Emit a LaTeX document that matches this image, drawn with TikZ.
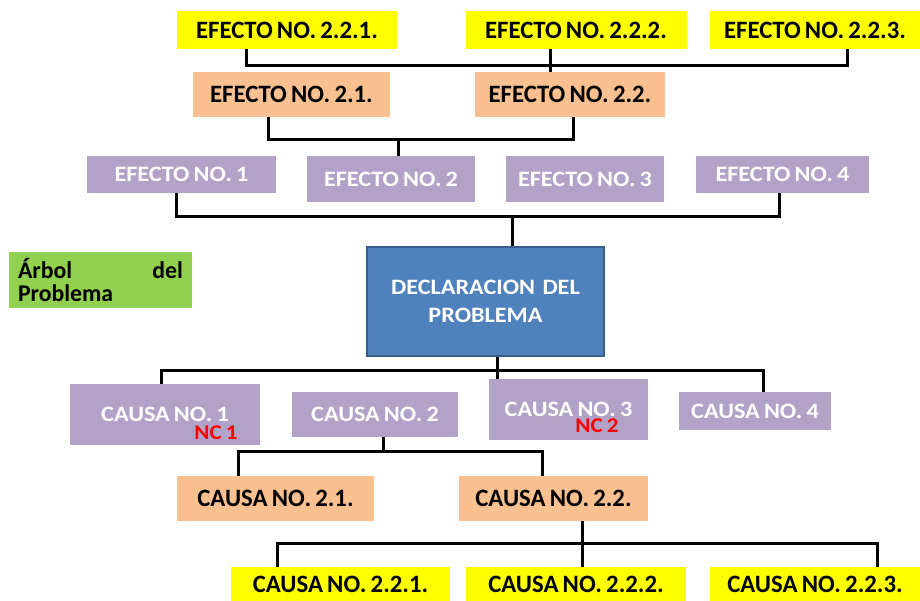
\documentclass[tikz,border=0pt]{standalone}
\usepackage{fontspec}
\setmainfont{Carlito}[FakeStretch=0.99, WordSpace=0.75]
\newfontfamily\wfont{Carlito}[FakeStretch=1.1, WordSpace=0.75]
\definecolor{cyel}{HTML}{FFFF00}
\definecolor{corg}{HTML}{FAC090}
\definecolor{cpur}{HTML}{B2A2C7}
\definecolor{cgrn}{HTML}{92D050}
\definecolor{cblu}{HTML}{4F81BD}
\definecolor{cblub}{HTML}{385D8A}
\definecolor{cred}{HTML}{FF0000}
\tikzset{
  box/.style={inner sep=0pt},
  yelbox/.style={box, fill=cyel, text=black, font=\fontsize{25}{28}\selectfont\bfseries},
  orgbox/.style={box, fill=corg, text=black, font=\fontsize{25}{28}\selectfont\bfseries},
  purbox/.style={box, fill=cpur, text=white, font=\wfont\fontsize{22}{26}\selectfont\bfseries},
  nclabel/.style={inner sep=0pt, text=cred, font=\wfont\fontsize{21}{22}\selectfont\bfseries},
  conn/.style={draw=black, line width=3pt, line join=miter},
}
\begin{document}
\begin{tikzpicture}[x=1pt,y=-1pt]
\useasboundingbox (0,0) rectangle (920,601);
% helper x positions
\coordinate (a246) at (246,0);
\coordinate (a847) at (847,0);
\coordinate (a268) at (268,0);
\coordinate (a573) at (573,0);
\coordinate (a176) at (176,0);
\coordinate (a779) at (779,0);
\coordinate (a161) at (161,0);
\coordinate (a763) at (763,0);
\coordinate (a238) at (238,0);
\coordinate (a542) at (542,0);
\coordinate (a277) at (277,0);
\coordinate (a877) at (877,0);
% effects
\node[yelbox, minimum width=220pt, minimum height=38pt] (E221) at (287,30) {EFECTO NO. 2.2.1.};
\node[yelbox, minimum width=221pt, minimum height=38pt] (E222) at (576,30) {EFECTO NO. 2.2.2.};
\node[yelbox, minimum width=210pt, minimum height=38pt] (E223) at (815,30) {EFECTO NO. 2.2.3.};
\node[orgbox, minimum width=197pt, minimum height=45pt] (E21) at (291.5,94.5) {EFECTO NO. 2.1.};
\node[orgbox, minimum width=190pt, minimum height=45pt] (E22) at (570,94.5) {EFECTO NO. 2.2.};
\node[purbox, minimum width=189pt, minimum height=37pt] (E1) at (181.5,174.5) {EFECTO NO. 1};
\node[purbox, minimum width=168pt, minimum height=46pt] (E2) at (391,179) {EFECTO NO. 2};
\node[purbox, minimum width=158pt, minimum height=46pt] (E3) at (585,179) {EFECTO NO. 3};
\node[purbox, minimum width=173pt, minimum height=37pt] (E4) at (782.5,174.5) {EFECTO NO. 4};
% title
\node[box, fill=cgrn, minimum width=183pt, minimum height=56pt, text width=165pt, align=left,
      font=\fontsize{24}{23}\selectfont\bfseries] (T) at (100.5,280) {Árbol\hfill del\\Problema};
% problem
\node[box, fill=cblu, draw=cblub, line width=1.5pt, text=white, minimum width=237pt, minimum height=109pt,
      text width=225pt, align=center, font=\wfont\fontsize{22}{28.5}\selectfont\bfseries] (D) at (485.5,301.5) {DECLARACION DEL\\PROBLEMA};
% causes
\node[purbox, minimum width=190pt, minimum height=61pt] (C1) at (165,414.5) {CAUSA NO. 1};
\node[purbox, minimum width=166pt, minimum height=45pt] (C2) at (375,414.5) {CAUSA NO. 2};
\node[purbox, minimum width=159pt, minimum height=61pt] (C3) at (568.5,409.5) {CAUSA NO. 3};
\node[purbox, minimum width=152pt, minimum height=38pt] (C4) at (755,411) {CAUSA NO. 4};
\node[nclabel] (NC1) at (216,433) {NC 1};
\node[nclabel] (NC2) at (597,426) {NC 2};
\node[orgbox, minimum width=197pt, minimum height=45pt] (C21) at (275.5,498.5) {CAUSA NO. 2.1.};
\node[orgbox, minimum width=189pt, minimum height=45pt] (C22) at (553.5,498.5) {CAUSA NO. 2.2.};
\node[yelbox, minimum width=219pt, minimum height=34pt] (C221) at (340.5,584) {CAUSA NO. 2.2.1.};
\node[yelbox, minimum width=220pt, minimum height=34pt] (C222) at (576,584) {CAUSA NO. 2.2.2.};
\node[yelbox, minimum width=210pt, minimum height=34pt] (C223) at (815,584) {CAUSA NO. 2.2.3.};
% buses
\coordinate (tb) at (550,66);
\coordinate (mb) at (398,140);
\coordinate (eb) at (512,217);
\coordinate (cb) at (497,370);
\coordinate (c2b) at (383,451);
\coordinate (c22b) at (582,543);
% connectors
\draw[conn] (E221.south -| a246) |- (tb) -| (E223.south -| a847);
\draw[conn] (E222.south -| tb) -- (E22.north -| tb);
\draw[conn] (E21.south -| a268) |- (mb) -| (E22.south -| a573);
\draw[conn] (mb) -- (E2.north -| mb);
\draw[conn] (E1.south -| a176) |- (eb) -| (E4.south -| a779);
\draw[conn] (eb) -- (D.north -| eb);
\draw[conn] (D.south -| cb) -- (C3.north -| cb);
\draw[conn] (C1.north -| a161) |- (cb) -| (C4.north -| a763);
\draw[conn] (C2.south -| c2b) -- (c2b);
\draw[conn] (C21.north -| a238) |- (c2b) -| (C22.north -| a542);
\draw[conn] (C22.south -| c22b) -- (C222.north -| c22b);
\draw[conn] (C221.north -| a277) |- (c22b) -| (C223.north -| a877);
\end{tikzpicture}
\end{document}
